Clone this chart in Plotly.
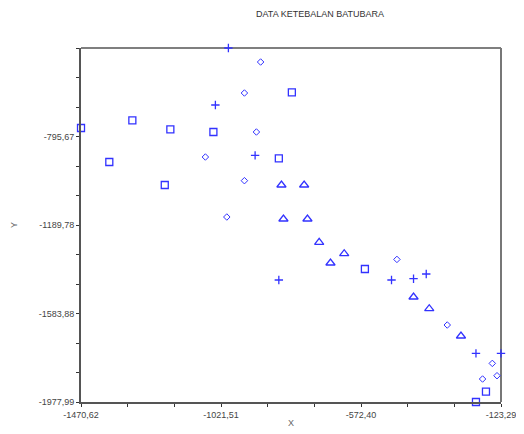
import plotly.graph_objects as go

# ---- data ----
sq_x = [-1470.6, -1379.8, -1305.9, -1201.9, -1184.0, -1045.9, -836.0, -794.2, -559.9, -171.5, -203.6]
sq_y = [-757.8, -909.2, -724.0, -1011.7, -764.1, -775.6, -893.2, -599.3, -1385.7, -1932.1, -1977.99]

dm_x = [-894.4, -946.4, -907.9, -1071.6, -946.4, -1002.9, -457.2, -295.7, -151.2, -136.1, -182.4]
dm_y = [-463.9, -602.0, -775.6, -887.0, -992.5, -1154.2, -1343.0, -1635.1, -1806.1, -1860.9, -1875.6]

pl_x = [-997.8, -1039.5, -912.1, -836.0, -474.5, -403.9, -363.1, -203.6, -123.29]
pl_y = [-401.57, -655.4, -879.8, -1434.7, -1434.7, -1428.9, -1408.0, -1761.6, -1761.6]

tr_x = [-827.6, -754.8, -821.2, -744.2, -706.6, -626.3, -670.3, -403.9, -353.5, -251.7]
tr_y = [-1011.7, -1011.7, -1163.1, -1163.1, -1267.3, -1317.6, -1359.0, -1510.4, -1562.5, -1684.1]

x_ticks = [-1470.62, -1320.92, -1171.22, -1021.51, -871.81, -722.10, -572.40, -422.70, -272.99, -123.29]
x_tick_labels = ["-1470,62", "", "", "-1021,51", "", "", "-572,40", "", "", "-123,29"]
y_ticks = [-1977.99, -1846.62, -1715.25, -1583.88, -1452.52, -1321.15, -1189.78, -1058.41, -927.04, -795.67, -664.31, -532.94, -401.57]
y_tick_labels = ["-1977,99", "", "", "-1583,88", "", "", "-1189,78", "", "", "-795,67", "", "", ""]

title_text = "DATA KETEBALAN BATUBARA"

BLUE = "rgb(50,50,255)"
W, H = 516, 426

fig = go.Figure()
fig.add_trace(go.Scatter(x=sq_x, y=sq_y, mode="markers", cliponaxis=False,
                         marker=dict(symbol="square-open", size=7, color=BLUE, line=dict(width=1.3))))
fig.add_trace(go.Scatter(x=dm_x, y=dm_y, mode="markers", cliponaxis=False,
                         marker=dict(symbol="diamond-open", size=5, color=BLUE, line=dict(width=1))))
fig.add_trace(go.Scatter(x=pl_x, y=pl_y, mode="markers", cliponaxis=False,
                         marker=dict(symbol="cross-thin-open", size=6, color=BLUE, line=dict(width=1.3, color=BLUE))))
fig.add_trace(go.Scatter(x=tr_x, y=tr_y, mode="markers", cliponaxis=False,
                         marker=dict(symbol="triangle-up-open", size=8, color=BLUE, line=dict(width=1.3))))

axis_font = dict(family="Liberation Sans, Arial, sans-serif", size=9, color="#444")

fig.update_layout(
    width=W, height=H,
    margin=dict(l=73, r=23, t=40, b=32),
    paper_bgcolor="white", plot_bgcolor="white",
    showlegend=False,
    title=dict(text=title_text, x=312/W, xanchor="center", y=1-6/H, yanchor="middle",
               font=dict(family="Liberation Sans, Arial, sans-serif", size=9, color="#333")),
    xaxis=dict(range=[-1470.62, -123.29], tickmode="array", tickvals=x_ticks, ticktext=x_tick_labels,
               showgrid=False, zeroline=False, showline=True, linecolor="#555", linewidth=2,
               ticks="outside", ticklen=3, tickcolor="#333", tickwidth=1, tickfont=axis_font,
               automargin=False,
               title=dict(text="X", font=dict(family="Liberation Sans, Arial, sans-serif", size=9, color="#666"), standoff=1)),
    yaxis=dict(range=[-1977.99, -401.57], tickmode="array", tickvals=y_ticks, ticktext=y_tick_labels,
               showgrid=False, zeroline=False, showline=True, linecolor="#555", linewidth=2,
               ticks="outside", ticklen=3, tickcolor="#333", tickwidth=1, tickfont=axis_font,
               automargin=False,
               title=dict(text="Y", font=dict(family="Liberation Sans, Arial, sans-serif", size=9, color="#666"), standoff=20)),
    shapes=[
        dict(type="line", xref="paper", yref="paper", x0=0, x1=1, y0=1, y1=1, layer="below",
             line=dict(color="black", width=1.2)),
        dict(type="line", xref="paper", yref="paper", x0=1, x1=1, y0=0, y1=1, layer="below",
             line=dict(color="#777", width=2)),
    ],
)

fig.write_html("out.html")
